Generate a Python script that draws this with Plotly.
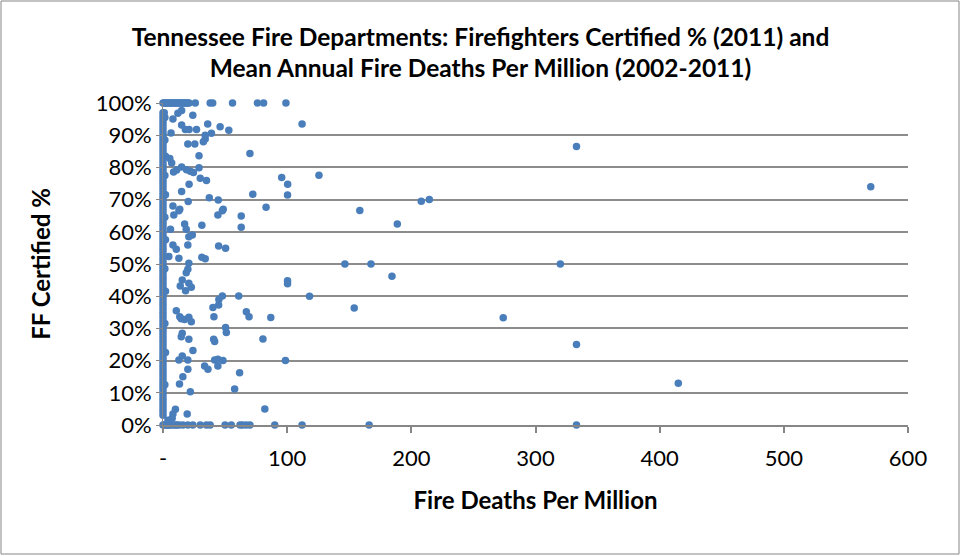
import plotly.graph_objects as go

# Departments with zero fire deaths per million, certified %
zero_deaths_pct = [100, 97, 96, 95, 94, 93, 92, 91, 90, 89, 88, 87, 86, 85, 84, 83, 82, 81,
                   80, 79, 78, 77, 76, 75, 74, 73, 72, 71, 70, 69, 68, 67, 66, 65, 64, 63,
                   62, 61, 60, 59, 58, 57, 56, 55, 54, 53, 52, 51, 50, 49, 48, 47, 46, 45,
                   44, 43, 42, 41, 40, 39, 38, 37, 36, 35, 34, 33, 32, 31, 30, 29, 28, 27,
                   26, 25, 24, 23, 22, 21, 20, 19, 18, 17, 16, 15, 14, 13, 12, 11, 10, 9,
                   8, 7, 6, 5, 4, 3]

# Same column, departments sitting just right of zero
near_zero_deaths = [1.5, 1.5, 2, 1.5, 2, 1.5, 2, 1.5, 2, 1.5, 2, 1.5]
near_zero_pct = [95.5, 88.5, 83.5, 77.5, 71.5, 64.5, 57.5, 48.5, 41.5, 31.5, 22.5, 12.5]

# Departments with 100% certified, deaths per million
full_cert_deaths = [1, 2, 3, 4, 5, 6, 7, 8, 9, 10, 11, 12, 13, 14, 15, 16, 17, 18, 19, 20,
                    21, 26, 38, 40, 56, 76, 81, 99]

# Departments with 0% certified, deaths per million
no_cert_deaths = [0, 1, 2, 3, 4, 5, 6, 8, 10, 11, 13, 16, 20, 24, 30, 35, 38, 50, 55, 62,
                  64, 67, 70, 90, 112, 166, 333]

# Everyone else
other_deaths = [1, 8, 12, 15, 24, 36, 46, 53, 112,
                15, 18, 21, 27, 6.5, 34, 34, 39, 20, 25.6, 32.5,
                70, 29, 5.5, 7, 8.5, 11, 15, 19, 22, 24.5, 29,
                30, 35, 21, 95.6, 100.4, 125.6, 15, 37.3, 44.5, 72.3, 100.3,
                20.3, 8, 13.5, 48.5, 83, 208, 214.5, 158.5, 188.7, 333, 570,
                12.8, 8.7, 44.2, 47.8, 63, 63, 31.3, 6, 17.4, 18.7, 20.8, 23.6,
                20, 8, 10.7, 44.8, 50.4, 4.7, 12.8, 31.3, 34, 20.8, 20, 18.7,
                146.5, 167.5, 184.4, 320, 100.3, 100.3, 118, 154,
                15.5, 13.9, 20.8, 22.8, 18.2, 47.8, 45, 44.8, 61,
                10.7, 13.5, 20.8, 40.2, 41, 67.1, 69.3, 86.8, 274,
                14.7, 17.4, 22.8, 50.4, 51, 15.5, 14.7, 20.8, 40.8, 41.6, 80.5, 333,
                24.1, 12.8, 15.5, 20, 41.6, 44.2, 48.3, 98.6, 33.5, 36.2, 44.2, 61.7, 20,
                16, 13.3, 22, 57.7, 415, 82, 10, 8, 7.4, 19.5, 4]
other_pct = [97, 95, 96.8, 97.7, 96.2, 93.5, 92.6, 91.5, 93.5,
             93.2, 91.8, 91.8, 91.8, 90.7, 90, 88.8, 90.6, 87.3, 87.3, 88,
             84.3, 83.6, 82.8, 81.4, 78.6, 79.2, 80.1, 79.3, 78.8, 78.4, 79.9,
             76.6, 75.9, 74.8, 76.9, 74.8, 77.6, 72.5, 70.6, 69.9, 71.7, 71.4,
             69.4, 68, 67, 67, 67.6, 69.5, 70, 66.6, 62.4, 86.5, 74,
             66.5, 65.2, 65.2, 66.5, 64.9, 61.4, 62, 60.8, 62.4, 60.8, 58.5, 59,
             55.9, 55.9, 54.6, 55.6, 54.9, 52.3, 51.8, 52.1, 51.6, 50.2, 48.4, 47.3,
             50, 50, 46.2, 50, 44.8, 43.9, 40, 36.3,
             45, 43.2, 44, 42.8, 41.7, 40.1, 39, 37.3, 40.1,
             35.5, 33.6, 33.5, 36.5, 33.6, 35.2, 33.6, 33.4, 33.3,
             33, 32.8, 32.1, 30.3, 28.7, 28.5, 27.4, 26.6, 26.6, 25.9, 26.7, 25,
             23.1, 20.2, 21.4, 20.2, 20.2, 20.4, 20, 20, 18.3, 17.3, 18.3, 16.2, 17.3,
             15, 12.7, 10.3, 11.2, 13, 5, 4.9, 3.4, 2.1, 3.4, 1.5]

x_ticks = [0, 100, 200, 300, 400, 500, 600]
x_tick_labels = ["-", "100", "200", "300", "400", "500", "600"]

deaths = ([0] * len(zero_deaths_pct) + near_zero_deaths + full_cert_deaths
          + no_cert_deaths + other_deaths)
certified = (zero_deaths_pct + near_zero_pct + [100] * len(full_cert_deaths)
             + [0] * len(no_cert_deaths) + other_pct)

W, H = 961, 556
ML, MR, MT, MB = 163, 53, 103, 131
FONT = "Lato"

fig = go.Figure()
fig.add_scatter(
    x=deaths, y=[c / 100 for c in certified], mode="markers", cliponaxis=False,
    marker=dict(size=7.5, color="#4a7ebb"), showlegend=False,
)

fig.update_layout(
    width=W, height=H,
    margin=dict(l=ML, r=MR, t=MT, b=MB, autoexpand=False),
    paper_bgcolor="white", plot_bgcolor="white",
    font=dict(family=FONT, size=22, color="black"),
    title=dict(
        text="<b>Tennessee Fire Departments: Firefighters Certified % (2011) and<br>"
             "Mean Annual Fire Deaths Per Million (2002-2011)</b>",
        x=0.5, xref="container", xanchor="center", y=0.918, yanchor="top",
        font=dict(family=FONT, size=24.5),
    ),
)
fig.update_xaxes(
    range=[0, 600], tickmode="array", tickvals=x_ticks, ticktext=x_tick_labels,
    showgrid=False, zeroline=False, automargin=False,
    showline=True, linecolor="#868686", linewidth=2,
    ticks="outside", ticklen=6, tickcolor="#868686", tickwidth=1.5,
    ticklabelstandoff=7,
    title=dict(text="<b>Fire Deaths Per Million</b>", font=dict(size=24), standoff=22),
)
fig.update_yaxes(
    range=[0, 1], dtick=0.1, tickformat=".0%",
    showgrid=True, gridcolor="#8c8c8c", gridwidth=1.5, zeroline=False, automargin=False,
    showline=True, linecolor="#868686", linewidth=1,
    ticks="outside", ticklen=6, tickcolor="#868686",
    title=dict(text="<b>FF Certified %</b>", font=dict(size=24), standoff=38),
)

# thin outer border around the whole chart
pw, ph = W - ML - MR, H - MT - MB
fig.add_shape(
    type="rect", xref="paper", yref="paper", layer="below",
    x0=(1 - ML) / pw, x1=(W - 2 - ML) / pw,
    y0=-(MB - 2) / ph, y1=1 + (MT - 1) / ph,
    line=dict(color="#868686", width=1),
)

# drop the browser's default 8px body margin so the chart sits at the page origin
fig.write_html(
    "out.html",
    config={"displayModeBar": False},
    post_script="document.body.style.margin = '0';",
)
